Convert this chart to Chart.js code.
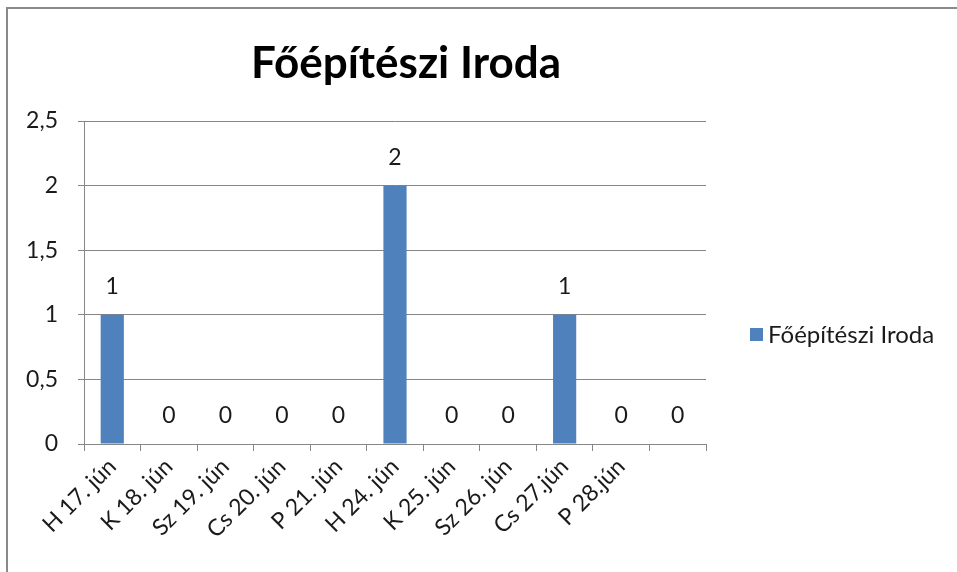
<!DOCTYPE html>
<html>
<head>
<meta charset="utf-8">
<script src="https://cdn.jsdelivr.net/npm/chart.js@4/dist/chart.umd.min.js"></script>
<style>
  html, body { margin: 0; padding: 0; background: #fff; }
  #wrap { position: relative; width: 957px; height: 572px; overflow: hidden; }
  #frame { position: absolute; left: 6px; top: 7px; width: 1000px; height: 600px;
           border-left: 2px solid #8a8a8a; border-top: 2px solid #8a8a8a; pointer-events: none; }
  canvas { position: absolute; left: 0; top: 0; }
</style>
</head>
<body>
<div id="wrap">
  <canvas id="c" width="957" height="572"></canvas>
  <div id="frame"></div>
</div>
<script>
const chartTitle = 'Főépítészi Iroda';
const seriesName = 'Főépítészi Iroda';
const categories = ['H 17. jún', 'K 18. jún', 'Sz 19. jún', 'Cs 20. jún', 'P 21. jún',
                    'H 24. jún', 'K 25. jún', 'Sz 26. jún', 'Cs 27.jún', 'P 28.jún', ''];
const values = [1, 0, 0, 0, 0, 2, 0, 0, 1, 0, 0];
const yTicks = [0, 0.5, 1, 1.5, 2, 2.5];

const FONT = 'Lato, "Open Sans", "Liberation Sans", sans-serif';
const BAR = '#4f81bd';
const GRID = '#868686';

const decorPlugin = {
  id: 'decor',
  afterDatasetsDraw(chart) {
    const ctx = chart.ctx;
    const meta = chart.getDatasetMeta(0);
    ctx.save();
    ctx.fillStyle = '#1a1a1a';
    ctx.font = '23px ' + FONT;
    ctx.textAlign = 'center';
    ctx.textBaseline = 'middle';
    meta.data.forEach((bar, i) => {
      ctx.fillText(String(values[i]), bar.x, bar.y - 28);
    });
    ctx.restore();
  },
  afterDraw(chart) {
    const ctx = chart.ctx;
    ctx.save();
    // title
    ctx.fillStyle = '#000';
    ctx.font = 'bold 44px ' + FONT;
    ctx.textAlign = 'center';
    ctx.textBaseline = 'middle';
    ctx.fillText(chartTitle, 406, 64);
    // legend
    ctx.fillStyle = BAR;
    ctx.fillRect(750, 328, 13, 13);
    ctx.fillStyle = '#1a1a1a';
    ctx.font = '24px ' + FONT;
    ctx.textAlign = 'left';
    ctx.fillText(seriesName, 768, 335);
    ctx.restore();
  }
};

new Chart(document.getElementById('c'), {
  type: 'bar',
  data: {
    labels: categories,
    datasets: [{
      label: seriesName,
      data: values,
      backgroundColor: BAR,
      borderWidth: 0,
      barPercentage: 0.41,
      categoryPercentage: 1.0
    }]
  },
  options: {
    responsive: false,
    animation: false,
    devicePixelRatio: 1,
    layout: { padding: { left: 0, right: 251, top: 121, bottom: 0 } },
    plugins: {
      legend: { display: false },
      title: { display: false },
      tooltip: { enabled: false }
    },
    scales: {
      x: {
        afterFit(scale) { scale.height = 128; },
        border: { display: true, color: GRID, width: 1 },
        grid: { display: true, offset: true, drawOnChartArea: false, drawTicks: true, tickLength: 7, color: GRID },
        ticks: {
          autoSkip: false,
          minRotation: 45, maxRotation: 45,
          padding: 2,
          color: '#1a1a1a',
          font: { family: FONT, size: 23 }
        }
      },
      y: {
        min: 0, max: 2.5,
        afterFit(scale) { scale.width = 84; },
        afterBuildTicks(scale) { scale.ticks = yTicks.map(v => ({ value: v })); },
        border: { display: true, color: GRID, width: 1 },
        grid: { color: GRID, lineWidth: 1, drawTicks: true, tickLength: 6 },
        ticks: {
          padding: 20,
          color: '#1a1a1a',
          font: { family: FONT, size: 23 },
          callback: (v) => String(v).replace('.', ',')
        }
      }
    }
  },
  plugins: [decorPlugin]
});
</script>
</body>
</html>
